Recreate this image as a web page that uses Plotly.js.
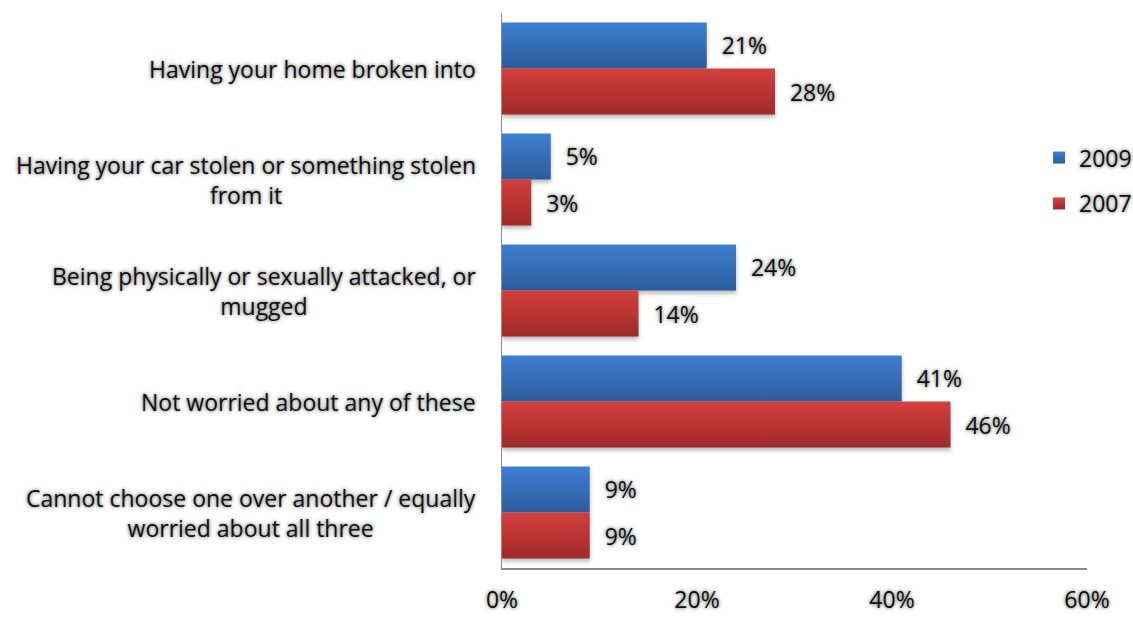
<!DOCTYPE html>
<html>
<head>
<meta charset="utf-8">
<script src="https://cdn.plot.ly/plotly-3.0.1.min.js"></script>
<style>
  html, body { margin: 0; padding: 0; background: #fff; }
  #chart { width: 1133px; height: 620px; }
  .bars path { filter: drop-shadow(0px 3px 2px rgba(0,0,0,0.28)); }
</style>
</head>
<body>
<div id="chart"></div>
<script>
// Which of these crimes worries you most?
const categories = [
  "Having your home broken into",
  "Having your car stolen or something stolen<br>from it",
  "Being physically or sexually attacked, or<br>mugged",
  "Not worried about any of these",
  "Cannot choose one over another / equally<br>worried about all three"
];
const values2009 = [21, 5, 24, 41, 9];
const values2007 = [28, 3, 14, 46, 9];
const xTickValues = [0, 20, 40, 60];
const xTickLabels = ["0%", "20%", "40%", "60%"];

const FONT = "Open Sans, Lato, sans-serif";
const FS = 23;
const GLOW = "0px 0px 3px #8a8a8a, 0px 0px 5px #9c9c9c";
const PAD = "\u00a0\u00a0";

function barTrace(name, values, color, group) {
  return {
    type: "bar",
    orientation: "h",
    name: name,
    legendgroup: group,
    x: values,
    y: categories,
    marker: { color: color },
    text: values.map(v => PAD + v + "%"),
    textposition: "outside",
    cliponaxis: false,
    textfont: { family: FONT, size: FS, color: "#111", shadow: GLOW },
    hoverinfo: "skip"
  };
}

const data = [
  barTrace("2009", values2009, "#3670b8", "a"),
  barTrace("2007", values2007, "#c13737", "b")
];

const labelAnnotations = categories.map(c => ({
  xref: "paper", yref: "y",
  x: 0, y: c,
  xanchor: "right", yanchor: "middle",
  xshift: -24,
  align: "center",
  text: c,
  showarrow: false,
  font: { family: FONT, size: FS, color: "#111", shadow: GLOW }
}));

const layout = {
  width: 1133, height: 620,
  margin: { l: 502, r: 46, t: 13, b: 52, pad: 0, autoexpand: false },
  paper_bgcolor: "#fff", plot_bgcolor: "#fff",
  barmode: "group",
  bargap: 0.17,
  bargroupgap: 0,
  showlegend: true,
  legend: {
    x: 0.918, xanchor: "left",
    y: 0.698, yanchor: "middle",
    traceorder: "grouped",
    tracegroupgap: 13,
    bgcolor: "rgba(0,0,0,0)",
    font: { family: FONT, size: FS, color: "#111", shadow: GLOW },
    itemwidth: 30
  },
  xaxis: {
    range: [0, 60],
    tickvals: xTickValues,
    ticktext: xTickLabels,
    showgrid: false,
    zeroline: false,
    showline: true,
    linecolor: "#8c8c8c",
    linewidth: 1.5,
    ticks: "",
    ticklabelstandoff: 11,
    tickfont: { family: FONT, size: FS, color: "#111", shadow: GLOW },
    fixedrange: true
  },
  yaxis: {
    type: "category",
    autorange: "reversed",
    showticklabels: false,
    showgrid: false,
    zeroline: false,
    showline: true,
    linecolor: "#8c8c8c",
    linewidth: 1.5,
    ticks: "",
    fixedrange: true
  },
  annotations: labelAnnotations
};

// Vertical shading on bars and legend swatches
function applyGradients(gd) {
  const svg = gd.querySelector("svg.main-svg");
  const ns = "http://www.w3.org/2000/svg";
  let defs = svg.querySelector("defs");
  if (!defs) { defs = document.createElementNS(ns, "defs"); svg.prepend(defs); }
  const grads = {
    gBlue: ["#3d7fd2", "#2d5c9b"],
    gRed: ["#d4403d", "#a02a2a"]
  };
  Object.keys(grads).forEach(id => {
    const lg = document.createElementNS(ns, "linearGradient");
    lg.setAttribute("id", id);
    lg.setAttribute("x1", "0"); lg.setAttribute("y1", "0");
    lg.setAttribute("x2", "0"); lg.setAttribute("y2", "1");
    grads[id].forEach((col, i) => {
      const st = document.createElementNS(ns, "stop");
      st.setAttribute("offset", i === 0 ? "0" : "1");
      st.setAttribute("stop-color", col);
      lg.appendChild(st);
    });
    defs.appendChild(lg);
  });
  const traces = gd.querySelectorAll(".barlayer .trace");
  traces.forEach((t, i) => {
    t.querySelectorAll(".point path").forEach(p => {
      p.style.fill = i === 0 ? "url(#gBlue)" : "url(#gRed)";
    });
  });
  const legendItems = gd.querySelectorAll(".legend .traces");
  legendItems.forEach((t, i) => {
    t.querySelectorAll(".legendpoints path").forEach(p => {
      p.style.fill = i === 0 ? "url(#gBlue)" : "url(#gRed)";
      p.style.stroke = "none";
    });
  });
}

Plotly.newPlot("chart", data, layout, { displayModeBar: false, staticPlot: true })
  .then(applyGradients);
</script>
</body>
</html>
